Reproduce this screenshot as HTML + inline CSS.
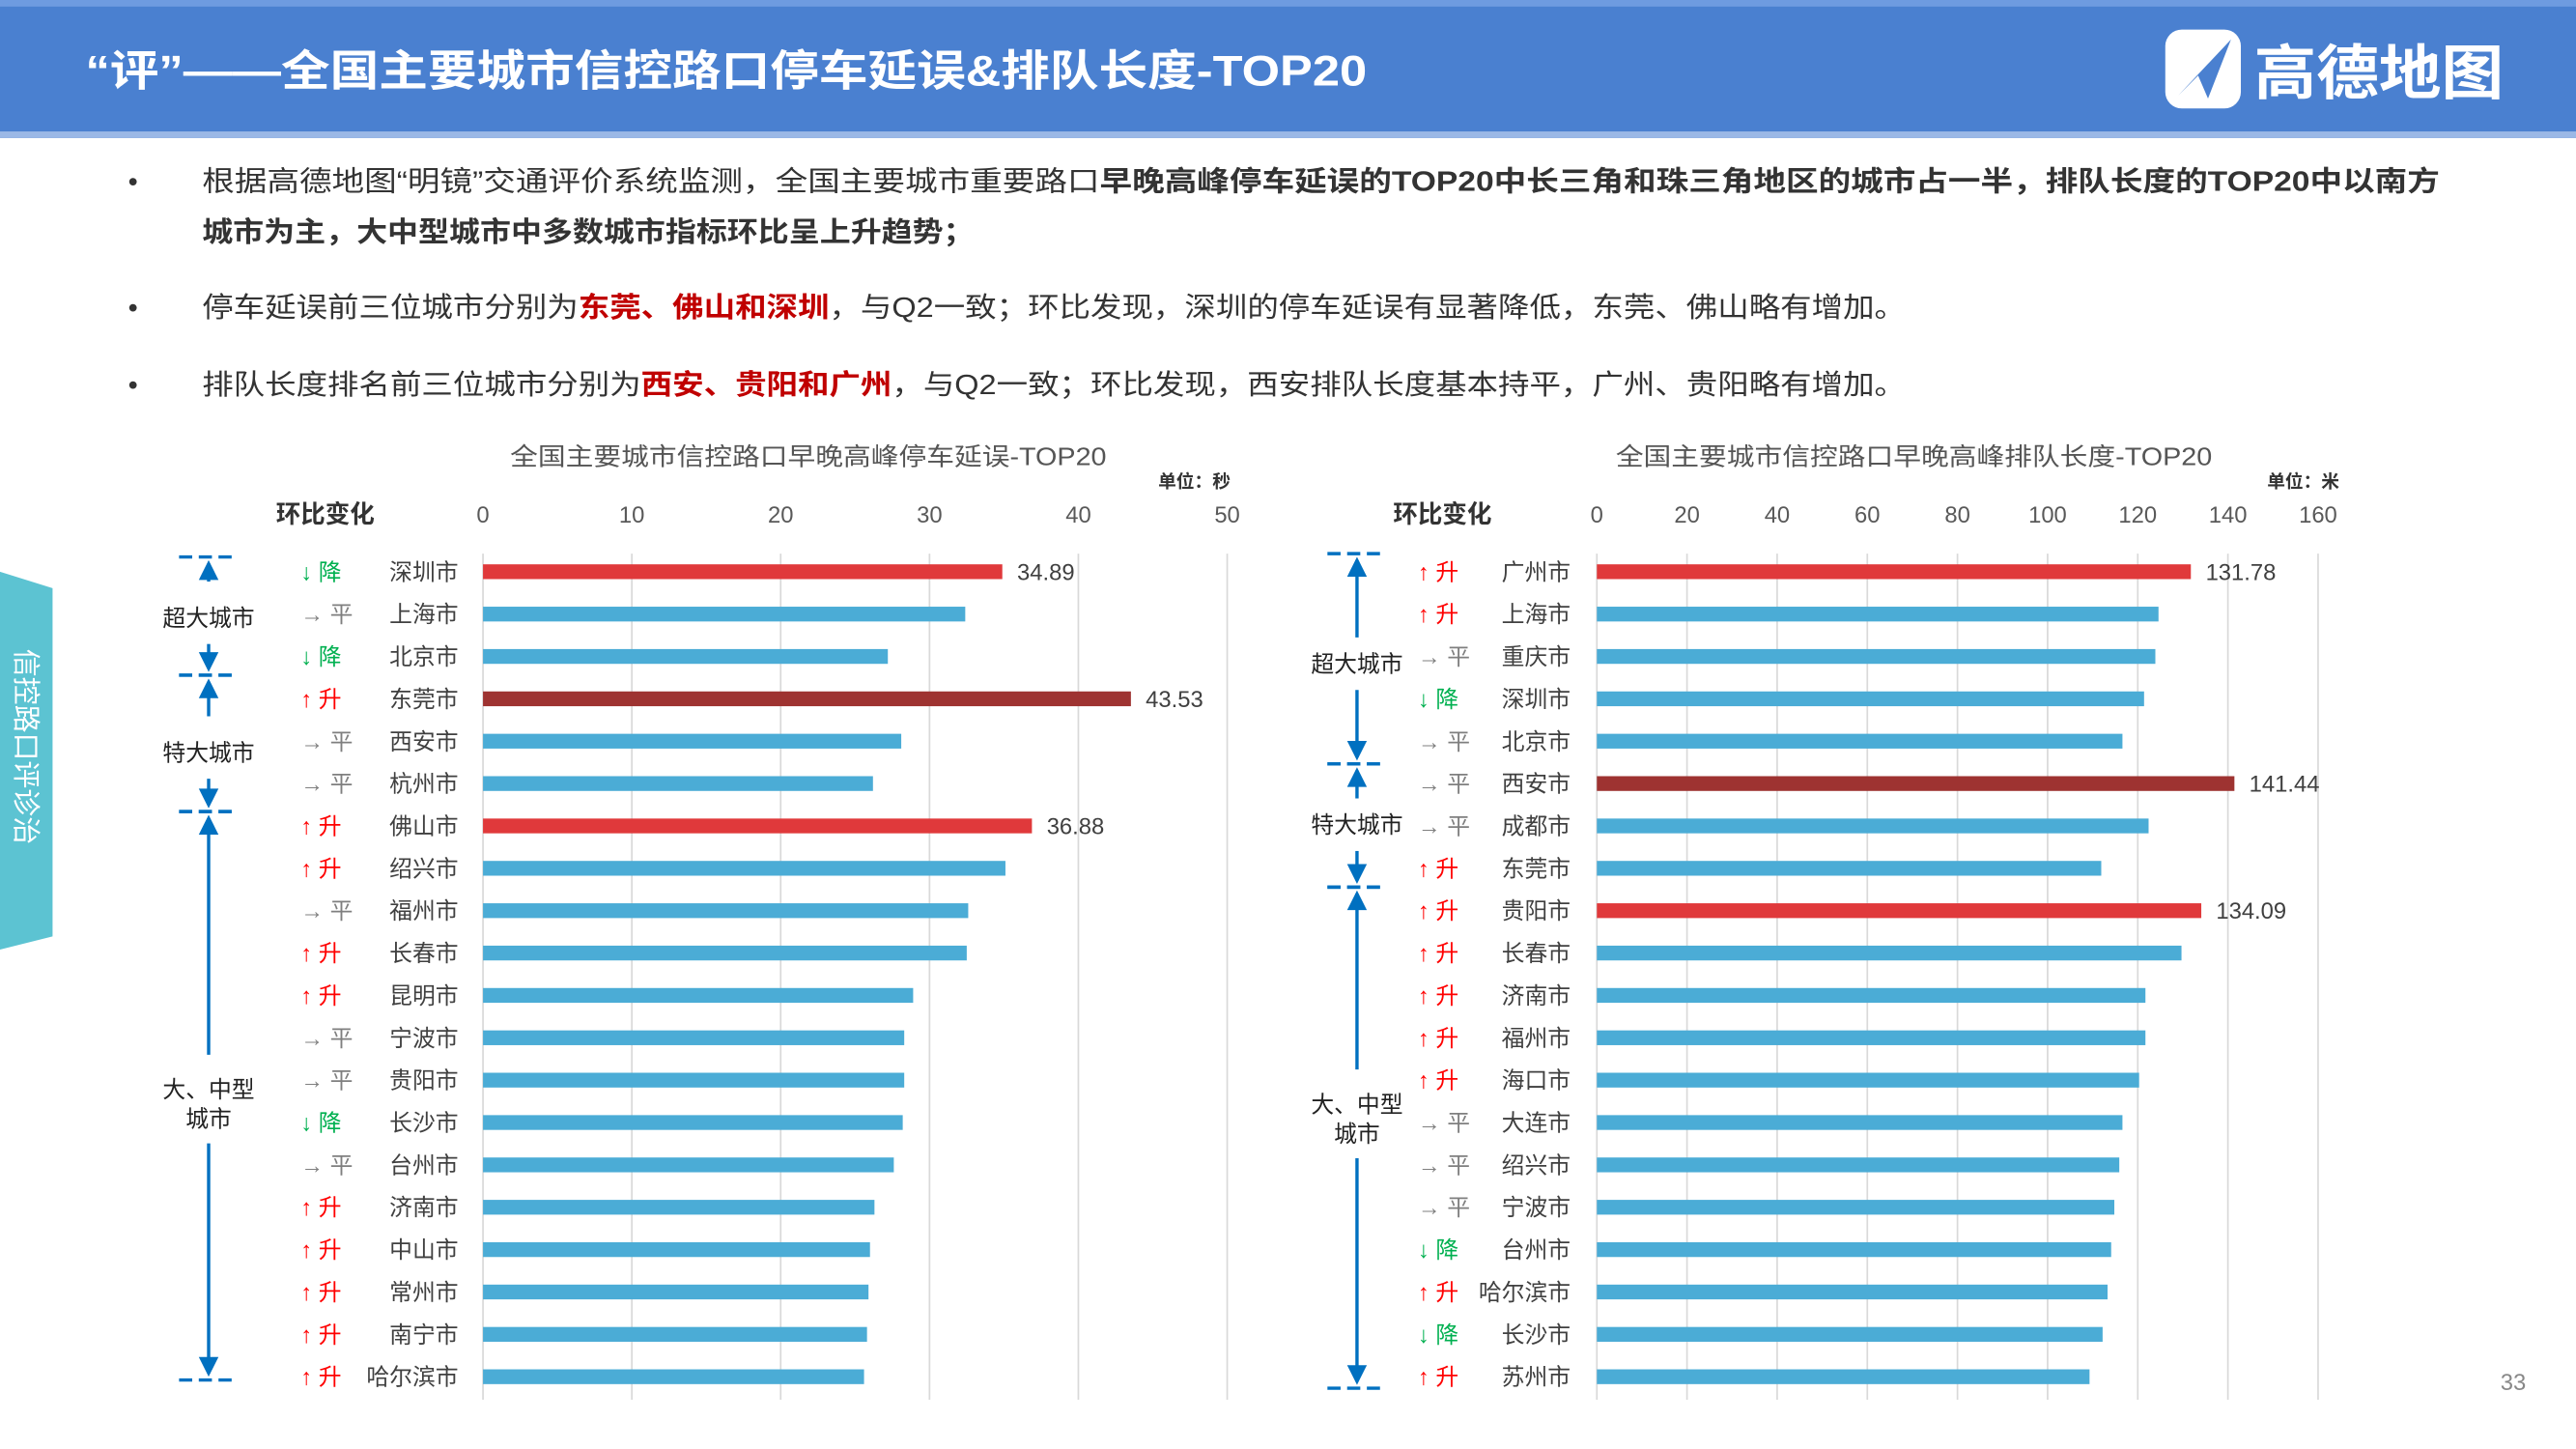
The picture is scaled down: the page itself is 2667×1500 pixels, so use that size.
<!DOCTYPE html>
<html><head><meta charset="utf-8">
<style>
html,body{margin:0;padding:0;background:#fff;}
svg{display:block;font-family:"Liberation Sans","Noto Sans CJK SC",sans-serif;}
</style></head>
<body>
<svg id="page" width="2667" height="1500" viewBox="0 0 1568 882" preserveAspectRatio="none" xmlns="http://www.w3.org/2000/svg">
<rect x="0" y="0" width="1568" height="84" fill="#4A80D0"/>
<rect x="0" y="0" width="1568" height="4" fill="#6E9BE0"/>
<rect x="0" y="80" width="1568" height="4" fill="#9BB8E6"/>
<text x="52" y="52" fill="#fff" font-size="26" font-weight="bold" textLength="780" lengthAdjust="spacingAndGlyphs">“评”——全国主要城市信控路口停车延误&amp;排队长度-TOP20</text>
<g>
<rect x="1318" y="18" width="46" height="48" rx="10" fill="#fff"/>
<path d="M1326 58 L1358 24 L1344 60 L1338 46 Z" fill="#4A80D0"/>
<text x="1372" y="57" fill="#fff" font-size="36" font-weight="bold" textLength="152" lengthAdjust="spacingAndGlyphs">高德地图</text>
</g>
<g font-size="17" fill="#333">
<text x="78" y="116">•</text>
<text x="123" y="116" textLength="1362" lengthAdjust="spacingAndGlyphs">根据高德地图“明镜”交通评价系统监测，全国主要城市重要路口<tspan font-weight="bold">早晚高峰停车延误的TOP20中长三角和珠三角地区的城市占一半，排队长度的TOP20中以南方</tspan></text>
<text x="123" y="147" font-weight="bold" textLength="470" lengthAdjust="spacingAndGlyphs">城市为主，大中型城市中多数城市指标环比呈上升趋势；</text>
<text x="78" y="193">•</text>
<text x="123" y="193" textLength="1037" lengthAdjust="spacingAndGlyphs">停车延误前三位城市分别为<tspan font-weight="bold" fill="#C00000">东莞、佛山和深圳</tspan>，与Q2一致；环比发现，深圳的停车延误有显著降低，东莞、佛山略有增加。</text>
<text x="78" y="240">•</text>
<text x="123" y="240" textLength="1037" lengthAdjust="spacingAndGlyphs">排队长度排名前三位城市分别为<tspan font-weight="bold" fill="#C00000">西安、贵阳和广州</tspan>，与Q2一致；环比发现，西安排队长度基本持平，广州、贵阳略有增加。</text>
</g>
<g>
<path d="M0 348 L32 358 L32 570 L0 578 Z" fill="#5CC3D2"/>
<text x="0" y="0" transform="translate(10,395) rotate(90)" fill="#fff" font-size="17">信控路口评诊治</text>
</g>
<text x="1522" y="846" fill="#888" font-size="14">33</text>
<g id="chart1"></g>
<g id="chart2"></g>
</svg>
<script>
const delayCities=["深圳市","上海市","北京市","东莞市","西安市","杭州市","佛山市","绍兴市","福州市","长春市","昆明市","宁波市","贵阳市","长沙市","台州市","济南市","中山市","常州市","南宁市","哈尔滨市"];
const delayValues=[34.89,32.4,27.2,43.53,28.1,26.2,36.88,35.1,32.6,32.5,28.9,28.3,28.3,28.2,27.6,26.3,26.0,25.9,25.8,25.6];
const delayChanges=["降","平","降","升","平","平","升","升","平","升","升","平","平","降","平","升","升","升","升","升"];
const delayTicks=[0,10,20,30,40,50];
const delayLabeled=[0,3,6];
const queueCities=["广州市","上海市","重庆市","深圳市","北京市","西安市","成都市","东莞市","贵阳市","长春市","济南市","福州市","海口市","大连市","绍兴市","宁波市","台州市","哈尔滨市","长沙市","苏州市"];
const queueValues=[131.78,124.6,123.9,121.4,116.6,141.44,122.4,111.9,134.09,129.7,121.7,121.7,120.3,116.6,115.9,114.8,114.1,113.3,112.2,109.3];
const queueChanges=["升","升","平","降","平","平","平","升","升","升","升","升","升","平","平","平","降","升","降","升"];
const queueTicks=[0,20,40,60,80,100,120,140,160];
const queueLabeled=[0,5,8];

const NS="http://www.w3.org/2000/svg";
function mk(parent,tag,attrs,txt){const e=document.createElementNS(NS,tag);for(const k in attrs)e.setAttribute(k,attrs[k]);if(txt!==undefined)e.textContent=txt;parent.appendChild(e);return e;}

function drawChart(g,o){
  const x0=o.x0,x1=o.x1,max=o.ticks[o.ticks.length-1];
  const xs=v=>x0+(x1-x0)*v/max;
  const ys=i=>o.y0+i*o.step;
  let t=mk(g,"text",{x:o.titleX,y:283,"font-size":15,fill:"#555","text-anchor":"middle",textLength:363,lengthAdjust:"spacingAndGlyphs"},o.title);
  
  
  t=mk(g,"text",{x:o.unitX,y:297,"font-size":11,fill:"#333","font-weight":"bold"},o.unit);
  
  
  t=mk(g,"text",{x:o.headX,y:318,"font-size":15,fill:"#333","font-weight":"bold","text-anchor":"middle"},"环比变化");
  
  
  o.ticks.forEach(v=>{
    const l=mk(g,"line",{x1:xs(v),x2:xs(v),y1:337,y2:852,stroke:"#D9D9D9","stroke-width":1});
    
    
    const tx=mk(g,"text",{x:xs(v),y:318,"font-size":14,fill:"#595959","text-anchor":"middle"},String(v));
    
    
  });
  o.cities.forEach((c,i)=>{
    const y=ys(i),v=o.values[i];
    const fill=i===o.labeled[1]?"#9E3331":(o.labeled.includes(i)?"#E0393B":"#4BACD6");
    const b=mk(g,"rect",{x:x0,y:y-4.5,width:xs(v)-x0,height:9,fill:fill});
    
    
    if(o.labeled.includes(i)){
      const vl=mk(g,"text",{x:xs(v)+9,y:y+5,"font-size":14,fill:"#404040"},v.toFixed(2));
      
      
    }
    const cl=mk(g,"text",{x:o.cityX,y:y+5,"font-size":14,fill:"#404040","text-anchor":"end"},c);
    
    
    const ch=o.changes[i];
    const col=ch==="升"?"#FF0000":ch==="降"?"#00B050":"#7F7F7F";
    const sym=ch==="升"?"↑":ch==="降"?"↓":"→";
    const cc=mk(g,"text",{x:o.chgX,y:y+5,"font-size":14,fill:col},sym+" "+ch);
    
    
  });
  o.groups.forEach(gr=>{
    const gg=mk(g,"g",{});
    
    
    const cx=o.brX;
    [gr.top,gr.bot].forEach(yy=>mk(gg,"line",{x1:cx-18,x2:cx+18,y1:yy,y2:yy,stroke:"#0070C0","stroke-width":2,"stroke-dasharray":"8,4"}));
    const mid=gr.mid;
    mk(gg,"line",{x1:cx,x2:cx,y1:gr.top+4,y2:mid-gr.gap,stroke:"#0070C0","stroke-width":2});
    mk(gg,"path",{d:`M${cx-6} ${gr.top+14} L${cx} ${gr.top+2} L${cx+6} ${gr.top+14} Z`,fill:"#0070C0"});
    mk(gg,"line",{x1:cx,x2:cx,y1:mid+gr.gap2,y2:gr.bot-4,stroke:"#0070C0","stroke-width":2});
    mk(gg,"path",{d:`M${cx-6} ${gr.bot-14} L${cx} ${gr.bot-2} L${cx+6} ${gr.bot-14} Z`,fill:"#0070C0"});
    gr.label.forEach((s,k)=>{
      const lt=mk(g,"text",{x:cx,y:mid+5+k*18-(gr.label.length-1)*9,"font-size":14,fill:"#222","text-anchor":"middle"},s);
      
      
    });
  });
}
drawChart(document.getElementById("chart1"),{x0:294,x1:747,y0:348,step:25.79,cities:delayCities,values:delayValues,changes:delayChanges,ticks:delayTicks,labeled:delayLabeled,
 title:"全国主要城市信控路口早晚高峰停车延误-TOP20",titleX:492,unit:"单位：秒",unitX:705,headX:198,cityX:279,chgX:183,brX:127,
 groups:[{top:339,bot:411,mid:376,gap:22,gap2:16,label:["超大城市"]},{top:411,bot:494,mid:458,gap:22,gap2:16,label:["特大城市"]},{top:494,bot:840,mid:672,gap:30,gap2:24,label:["大、中型","城市"]}]});
drawChart(document.getElementById("chart2"),{x0:972,x1:1411,y0:348,step:25.79,cities:queueCities,values:queueValues,changes:queueChanges,ticks:queueTicks,labeled:queueLabeled,
 title:"全国主要城市信控路口早晚高峰排队长度-TOP20",titleX:1165,unit:"单位：米",unitX:1380,headX:878,cityX:956,chgX:863,brX:826,
 groups:[{top:337,bot:465,mid:404,gap:16,gap2:16,label:["超大城市"]},{top:465,bot:540,mid:502,gap:16,gap2:16,label:["特大城市"]},{top:540,bot:845,mid:681,gap:30,gap2:24,label:["大、中型","城市"]}]});
</script>
</body></html>
